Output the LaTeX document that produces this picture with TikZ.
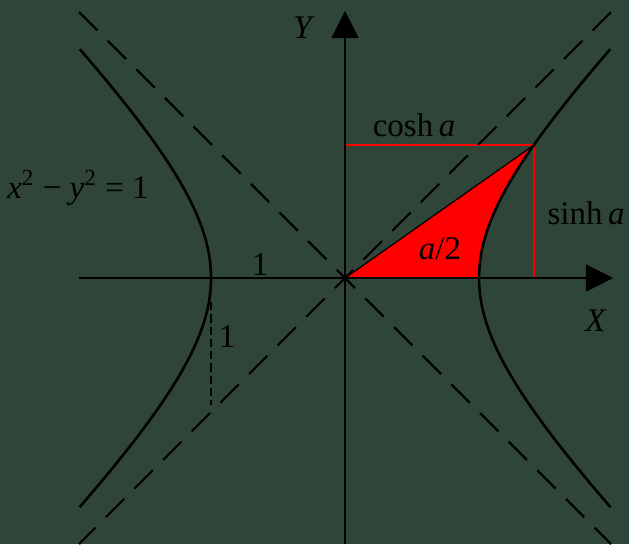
\documentclass[tikz,border=0pt]{standalone}
\usepackage{fontspec}
\setmainfont{Liberation Serif}
\usepackage{xcolor}
\usepackage{tikz}
\usetikzlibrary{arrows.meta}
\definecolor{board}{RGB}{47,69,56}
\tikzset{
  axis/.style={line width=0.55pt,-{Triangle[length=11.5pt,width=11.5pt]}},
  branch/.style={line width=1.1pt,samples=80,smooth},
  asym/.style={line width=0.95pt,dash pattern=on 11pt off 6.2pt},
  guide/.style={draw=red,line width=0.8pt},
  unitdash/.style={line width=0.55pt,dash pattern=on 3.5pt off 1.7pt},
  lbl/.style={font=\fontsize{14}{16}\selectfont,inner sep=0pt,anchor=base},
}

\begin{document}
\begin{tikzpicture}[x=2cm,y=2cm]
\fill[board] (-2.575,-1.985) rectangle (2.119,2.075);
\useasboundingbox (-2.575,-1.985) rectangle (2.119,2.075);
\coordinate (o) at (0,0);
\coordinate (p) at ({cosh(0.875)},{sinh(0.875)});
\coordinate (ph) at (0,{sinh(0.875)});
\coordinate (pv) at ({cosh(0.875)},0);
\coordinate (xl) at (-1.985,0);
\coordinate (xr) at (2.0,0);
\coordinate (yb) at (0,-1.985);
\coordinate (yt) at (0,1.993);
\coordinate (tl) at (-1.985,1.985);
\coordinate (tr) at (1.985,1.985);
\coordinate (bl) at (-1.985,-1.985);
\coordinate (br) at (1.985,-1.985);
\coordinate (u1) at (-1,-0.18);
\coordinate (u2) at (-1,-0.95);
% sector
\fill[red] (o) -- plot[domain=0.875:0,samples=30] ({cosh(\x)},{sinh(\x)}) -- cycle;
\draw[guide] (ph) -- (p) -- (pv);
% axes
\draw[axis] (xl) -- (xr);
\draw[axis] (yb) -- (yt);
% asymptotes
\draw[asym] (tl) -- (br);
\draw[asym] (tr) -- (bl);
\draw[unitdash] (u1) -- (u2);
% hyperbola
\draw[branch] plot[domain=-1.306:1.306] ({cosh(\x)},{sinh(\x)});
\draw[branch] plot[domain=-1.306:1.306] ({-cosh(\x)},{sinh(\x)});
\draw[line width=0.5pt] (o) -- (p);
% labels
\node[lbl] (ly) at (-0.306,1.785) {\textit{Y}};
\node[lbl] (lx) at (1.873,-0.40) {\textit{X}};
\node[lbl] (lc) at (0.515,1.060) {cosh\,\textit{a}};
\node[lbl] (ls) at (1.799,0.396) {sinh\,\textit{a}};
\node[lbl] (la) at (0.709,0.138) {\textit{a}/2};
\node[lbl] (le) at (-1.993,0.597) {\textit{x}\textsuperscript{2} − \textit{y}\textsuperscript{2} = 1};
\node[lbl] (l1) at (-0.634,0.022) {1};
\node[lbl] (l2) at (-0.881,-0.522) {1};
\end{tikzpicture}
\end{document}
